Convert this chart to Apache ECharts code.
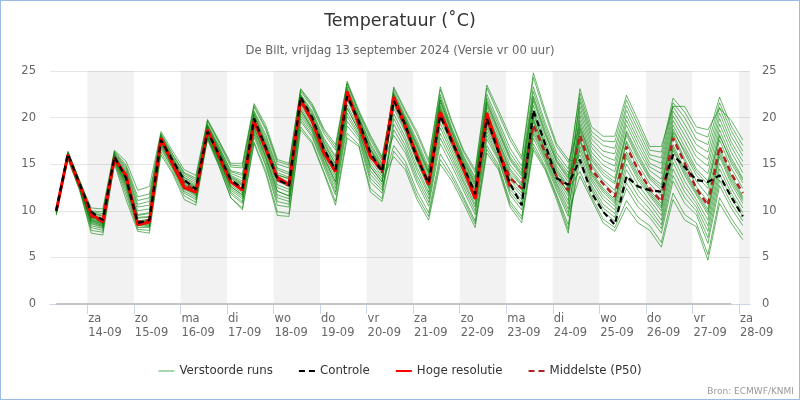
<!DOCTYPE html>
<html><head><meta charset="utf-8">
<script src="https://cdn.jsdelivr.net/npm/echarts@6/dist/echarts.min.js"></script>
<style>html,body{margin:0;padding:0;background:#fff}#wrap{position:relative;width:800px;height:400px}#c{width:800px;height:400px}#rand{position:absolute;left:0;top:0;width:800px;height:400px;box-sizing:border-box;border:1px solid #99bbe8;pointer-events:none}</style>
</head><body><div id="wrap"><div id="c"></div><div id="rand"></div></div><script>
// tijd in uren vanaf vr 13-09 00:00 (lokale tijd), 6-uurlijks
const uren = [8,14,20,26,32,38,44,50,56,62,68,74,80,86,92,98,104,110,116,122,128,134,140,146,152,158,164,170,176,182,188,194,200,206,212,218,224,230,236,242,248,254,260,266,272,278,284,290,296,302,308,314,320,326,332,338,344,350,356,362];
const dagTicks = [24,48,72,96,120,144,168,192,216,240,264,288,312,336,360];
const dagLabels = ['za\n14-09','zo\n15-09','ma\n16-09','di\n17-09','wo\n18-09','do\n19-09','vr\n20-09','za\n21-09','zo\n22-09','ma\n23-09','di\n24-09','wo\n25-09','do\n26-09','vr\n27-09','za\n28-09'];
const schaduw = [[24,48],[72,96],[120,144],[168,192],[216,240],[264,288],[312,336],[360,366]];
const yTicks = [0,5,10,15,20,25];

const controle = [10.0,16.1,12.9,9.9,9.0,15.8,13.5,8.7,9.0,17.6,15.4,13.3,12.3,18.5,16.0,13.3,12.4,19.9,16.8,13.4,12.7,22.2,20.0,16.6,14.4,22.3,19.6,16.2,14.2,21.8,19.2,15.6,13.0,20.2,17.4,14.8,11.8,19.9,16.3,12.9,10.6,20.8,17.2,13.5,12.8,15.5,11.9,9.9,8.5,13.7,12.6,12.2,12.05,16.0,14.7,13.3,13.1,13.8,11.5,9.4];
const hogeResolutie = [10.0,16.0,12.8,9.7,8.8,15.6,13.8,8.5,8.8,17.8,15.0,12.5,12.0,18.7,15.8,13.1,12.2,19.6,16.6,13.6,12.8,21.9,19.6,16.2,14.2,22.8,19.2,15.8,14.4,22.2,19.1,15.9,12.8,20.6,17.6,14.5,11.3,20.5,16.6,12.6];
const middelste = [10.0,16.0,12.8,9.4,8.8,15.8,13.6,8.8,9.0,17.7,15.2,12.9,12.2,18.6,16.0,13.2,12.4,19.6,16.7,13.3,12.7,21.8,19.6,16.4,14.2,22.4,19.4,15.9,14.1,21.8,18.9,15.7,12.9,20.4,17.4,14.5,11.9,19.8,16.4,13.5,12.4,19.2,16.3,13.7,12.2,18.1,14.4,12.9,11.5,16.9,14.4,12.4,11.0,17.8,15.1,12.4,10.6,16.9,14.0,11.9];
const nulLijn = [0,0,0,0,0,0,0,0,0,0,0,0,0,0,0,0,0,0,0,0,0,0,0,0,0,0,0,0,0,0,0,0,0,0,0,0,0,0,0,0,0,0,0,0,0,0,0,0,0,0,0,0,0,0,0,0,0,0,0];

const run01 = [10.1,16.1,13.0,9.6,9.2,16.0,14.1,10.0,10.2,17.9,15.6,13.5,12.7,19.2,16.8,14.2,13.8,20.6,17.9,14.4,13.9,22.4,20.5,17.6,15.7,23.1,20.1,17.0,14.9,22.8,20.2,17.6,14.7,22.5,18.9,15.9,13.6,22.5,19.6,16.7,14.8,23.3,19.5,16.2,14.5,22.6,18.5,17.5,17.4,21.9,19.2,16.5,16.3,22.1,20.6,18.4,17.9,22.2,19.1,17.0];
const run02 = [9.9,15.9,12.6,8.7,8.3,15.6,12.8,8.6,8.6,17.1,14.8,12.5,11.7,18.1,15.3,12.2,11.3,18.4,15.3,11.4,11.0,20.2,18.4,15.2,12.4,20.1,18.1,13.9,12.5,17.0,15.3,12.1,9.8,16.1,14.0,11.5,8.9,17.0,14.9,11.0,9.4,17.2,14.8,11.7,8.5,15.5,12.5,10.3,9.3,13.0,11.0,9.7,8.1,13.8,11.4,10.0,7.1,13.3,10.8,8.9];
const run03 = [10.0,16.0,12.8,9.2,8.7,15.8,13.5,8.9,9.0,17.6,15.2,13.0,12.2,18.8,16.3,13.6,12.9,20.0,17.1,13.7,13.1,22.0,19.9,16.9,14.8,22.6,19.6,16.3,14.4,20.4,17.9,14.7,12.0,19.4,16.5,13.7,11.1,19.2,16.3,13.0,11.6,19.1,16.1,13.3,11.1,20.2,16.3,14.9,14.2,19.2,16.6,14.3,13.4,19.7,17.5,15.1,14.0,19.3,16.3,14.1];
const run04 = [9.7,15.7,12.4,8.2,7.9,15.3,12.1,8.2,8.2,16.6,14.5,11.9,11.2,17.6,14.7,11.4,10.3,17.4,14.3,9.9,9.7,19.0,17.4,14.2,11.0,18.3,17.1,12.4,11.3,19.3,17.0,13.8,11.3,18.3,15.7,13.0,10.4,18.5,15.8,12.3,10.9,18.5,15.7,12.8,10.2,17.4,13.8,12.0,10.8,15.7,13.3,11.6,10.0,16.5,13.8,11.7,9.6,15.8,12.9,10.8];
const run05 = [10.2,16.2,13.2,9.9,9.7,16.3,14.7,11.1,11.4,18.2,16.0,14.0,13.3,19.0,16.5,13.8,13.2,20.2,17.4,13.9,13.4,22.1,20.1,17.1,15.1,22.8,19.8,16.5,14.5,23.1,20.6,18.2,15.2,23.0,19.4,16.3,14.1,23.2,20.4,17.6,15.5,24.3,20.4,16.9,15.2,19.3,15.4,13.8,12.9,18.1,15.5,13.4,12.2,18.8,16.2,13.8,12.4,18.2,15.1,13.0];
const run06 = [9.5,15.5,12.2,7.6,7.4,15.0,11.2,7.8,7.6,16.0,14.0,11.2,10.6,17.9,15.4,12.6,11.7,18.9,15.8,12.1,11.6,20.8,18.8,15.7,13.1,21.0,18.6,14.7,13.1,21.8,19.0,15.9,13.1,20.8,17.5,14.6,12.1,20.4,17.2,14.0,12.7,20.3,16.9,14.1,12.4,14.2,11.5,9.1,8.2,11.1,9.3,8.4,6.6,11.9,9.6,8.7,5.3,11.4,9.2,7.4];
const run07 = [10.0,16.0,12.9,9.3,8.9,15.9,13.7,9.3,9.4,17.7,15.3,13.2,12.4,19.6,17.2,14.7,14.6,21.1,18.7,15.0,14.6,22.8,21.1,18.3,16.5,23.6,20.5,17.6,15.4,22.1,19.4,16.5,13.6,21.3,18.0,15.0,12.6,21.1,18.0,14.9,13.4,21.3,17.8,14.8,13.1,16.5,13.2,11.2,10.1,14.4,12.2,10.7,9.0,15.2,12.6,10.8,8.4,14.5,11.9,9.8];
const run08 = [9.9,15.9,12.7,8.9,8.4,15.6,13.0,8.7,8.7,17.3,15.0,12.6,11.9,18.6,16.0,13.2,12.4,19.6,16.6,13.2,12.6,21.7,19.5,16.4,14.2,22.3,19.3,15.8,14.0,22.5,19.8,17.1,14.2,21.9,18.5,15.5,13.1,21.8,18.8,15.8,14.1,22.3,18.7,15.5,13.8,23.1,19.0,18.0,18.0,22.4,19.7,16.9,16.9,21.2,21.2,19.0,18.7,21.0,19.7,17.6];
const run09 = [10.4,16.4,13.3,10.3,10.2,16.5,15.3,12.2,12.6,18.5,16.4,14.4,13.8,19.8,17.5,15.1,15.1,21.5,19.2,15.5,15.1,23.1,21.5,18.8,17.1,23.9,20.8,18.1,15.8,22.4,19.6,16.3,13.2,20.5,17.3,14.4,11.8,20.0,16.8,13.6,12.3,19.8,16.5,13.8,12.0,18.5,14.8,13.0,11.8,17.3,14.3,12.2,10.8,18.0,15.3,12.6,11.0,16.8,13.8,11.5];
const run10 = [10.1,16.1,12.9,9.4,9.0,16.0,13.9,9.6,9.8,17.8,15.5,13.3,12.6,18.4,15.7,12.8,11.9,19.1,16.1,12.5,12.0,21.1,19.0,15.9,13.5,21.4,18.8,15.0,13.4,15.8,14.4,11.2,9.0,15.0,13.2,10.8,8.2,16.2,14.4,10.4,8.7,16.5,14.4,11.2,7.6,16.9,13.5,11.6,10.5,15.0,12.8,11.1,9.5,15.8,13.2,11.2,9.0,15.1,12.4,10.3];
const run11 = [9.8,15.8,12.6,8.6,8.2,15.5,12.6,8.5,8.4,17.0,14.7,12.3,11.6,19.1,16.6,14.0,13.5,20.4,17.6,14.1,13.6,22.3,20.3,17.4,15.4,22.9,19.9,16.7,14.7,21.9,19.2,16.2,13.3,21.1,17.8,14.8,12.3,20.7,17.6,14.5,13.0,20.8,17.4,14.5,12.7,21.2,17.2,15.9,15.4,20.2,17.6,15.1,14.5,20.7,18.7,16.4,15.5,20.5,17.4,15.3];
const run12 = [10.2,16.2,13.0,9.7,9.4,16.1,14.3,10.4,10.6,18.0,15.7,13.6,12.9,17.9,15.1,12.0,11.0,18.2,15.0,11.0,10.7,19.9,18.1,15.0,12.0,19.6,17.9,13.5,12.2,18.7,16.6,13.4,10.9,17.8,15.3,12.6,10.0,18.1,15.6,12.0,10.5,18.2,15.5,12.5,9.8,13.7,11.2,8.7,7.8,10.4,8.7,7.9,6.1,11.2,9.0,8.3,4.7,10.8,8.7,6.9];
const run13 = [10.0,16.0,12.7,9.0,8.6,15.7,13.3,8.8,8.9,17.4,15.1,12.8,12.0,18.7,16.2,13.4,12.7,19.8,16.9,13.4,12.8,21.8,19.7,16.6,14.5,22.5,19.5,16.0,14.2,22.6,20.0,17.3,14.4,22.2,18.7,15.7,13.4,22.1,19.2,16.2,14.4,22.8,19.1,15.8,14.1,16.0,12.8,10.7,9.7,13.7,11.6,10.2,8.5,14.5,12.0,10.4,7.8,13.9,11.4,9.4];
const run14 = [10.2,16.2,13.1,9.8,9.5,16.2,14.5,10.7,11.0,18.1,15.8,13.8,13.1,19.3,16.9,14.3,14.0,20.7,18.2,14.6,14.1,22.5,20.7,17.8,15.9,23.3,20.2,17.2,15.1,18.1,16.2,13.0,10.5,17.2,14.8,12.2,9.6,17.7,15.4,11.7,10.1,17.8,15.2,12.2,9.4,19.7,15.9,14.4,13.5,18.6,16.1,13.8,12.8,19.2,16.9,14.5,13.2,18.7,15.7,13.5];
const run15 = [9.6,15.6,12.3,7.9,7.7,15.2,11.7,8.0,7.9,16.3,14.2,11.6,10.9,18.2,15.4,12.4,11.5,18.6,15.6,11.7,11.3,20.5,18.6,15.4,12.8,20.5,18.3,14.3,12.8,22.3,19.6,16.8,13.9,21.6,18.2,15.2,12.8,21.4,18.4,15.4,13.7,21.8,18.2,15.2,13.4,21.7,17.7,16.4,16.1,20.8,18.1,15.6,15.1,21.2,19.3,17.1,16.3,21.1,18.0,15.9];
const run16 = [10.0,15.9,12.8,9.1,8.6,15.8,13.4,8.9,9.1,17.5,15.1,12.9,12.0,17.9,14.8,11.4,10.1,17.2,14.0,9.5,9.4,18.7,17.2,14.0,10.6,17.8,16.9,12.0,11.0,16.4,14.8,11.6,9.4,15.5,13.6,11.2,8.6,16.6,14.6,10.7,9.1,16.8,14.6,11.5,8.0,18.8,15.0,13.3,12.2,17.5,15.0,12.9,11.6,18.3,15.6,13.2,11.6,17.6,14.6,12.4];
const run17 = [10.1,16.1,12.9,9.5,9.1,15.9,13.8,9.5,9.7,17.8,15.4,13.3,12.5,19.1,16.5,13.7,13.0,20.3,17.2,13.8,13.5,22.2,20.0,17.3,15.0,22.7,19.9,16.6,14.6,23.3,20.8,18.5,15.5,23.3,19.6,16.5,14.4,23.5,20.8,18.0,15.8,24.8,20.8,17.2,15.5,15.1,12.2,9.9,8.9,12.4,10.4,9.3,7.6,13.2,10.8,9.6,6.5,12.7,10.3,8.4];
const run18 = [9.8,15.8,12.5,8.4,8.1,15.4,12.4,8.4,8.3,16.8,14.6,12.1,11.4,18.5,15.9,13.0,12.2,19.4,16.3,12.8,12.3,21.4,19.3,16.2,13.8,21.9,19.1,15.4,13.7,21.0,18.4,15.2,12.4,19.9,16.9,14.0,11.4,19.6,16.6,13.3,11.9,19.5,16.3,13.5,11.6,22.1,18.1,17.0,16.7,21.3,18.7,16.0,15.7,21.6,20.0,17.7,17.1,21.6,18.6,16.4];
const run19 = [10.3,16.3,13.2,10.0,9.9,16.4,14.9,11.5,11.8,18.3,16.1,14.1,13.5,19.7,17.4,14.9,14.8,21.3,18.9,15.3,14.9,23.0,21.3,18.6,16.8,23.7,20.6,17.9,15.6,22.2,19.8,16.9,14.1,21.9,18.4,15.3,13.0,21.6,18.6,15.6,13.9,22.1,18.4,15.3,13.6,17.8,14.2,12.4,11.2,16.3,13.9,12.0,10.5,17.1,14.4,12.1,10.2,16.4,13.5,11.3];
const run20 = [9.9,15.8,12.6,8.8,8.4,15.5,12.9,8.6,8.5,17.2,14.9,12.4,11.8,17.8,15.0,11.8,10.8,17.9,14.8,10.6,10.4,19.6,17.9,14.7,11.7,19.1,17.6,13.1,11.9,19.9,17.5,14.3,11.7,18.9,16.1,13.3,10.7,18.9,16.1,12.6,11.2,18.8,15.9,13.0,10.7,20.7,16.8,15.4,14.8,19.7,17.1,14.7,14.0,20.2,18.1,15.8,14.8,19.9,16.9,14.7];
const run21 = [10.1,16.0,12.9,9.3,8.8,15.9,13.6,9.2,9.3,17.7,15.3,13.1,12.4,18.8,16.2,13.5,12.8,19.9,17.0,13.5,13.0,21.9,19.8,16.8,14.6,22.5,19.5,16.1,14.3,21.9,19.1,16.0,13.2,20.9,17.6,14.7,12.2,20.5,17.4,14.3,12.8,20.5,17.1,14.3,12.5,17.6,14.0,12.2,11.0,16.0,13.6,11.8,10.3,16.8,14.1,11.9,9.9,16.1,13.2,11.1];
const run22 = [9.9,15.9,12.7,9.0,8.5,15.7,13.2,8.8,8.9,17.4,15.0,12.8,12.0,18.3,15.5,12.6,11.7,18.9,15.8,12.1,11.6,20.8,18.8,15.7,13.1,21.0,18.6,14.7,13.1,21.4,18.6,15.4,12.6,20.3,17.1,14.2,11.6,19.8,16.8,13.8,12.2,19.9,16.6,13.8,11.9,19.0,15.6,14.1,13.1,18.4,15.8,13.6,12.5,18.5,16.5,14.2,12.8,18.0,15.4,13.3];
const verstoordeRuns = [run01,run02,run03,run04,run05,run06,run07,run08,run09,run10,run11,run12,run13,run14,run15,run16,run17,run18,run19,run20,run21,run22];

const FONT = 'DejaVu Sans';
const pairs = arr => arr.map((v, i) => [uren[i], v]);
const chart = echarts.init(document.getElementById('c'), null, {renderer: 'canvas', width: 800, height: 400});

const series = [];
series.push({
  name: 'nul', type: 'line', data: pairs(nulLijn), symbol: 'none', silent: true, z: 1,
  lineStyle: {color: '#c4c4c4', width: 2},
  markArea: {silent: true, itemStyle: {color: 'rgba(0,0,0,0.052)'}, data: schaduw.map(([a, b]) => [{xAxis: a}, {xAxis: b}])}
});
verstoordeRuns.forEach(r => series.push({
  name: 'Verstoorde runs', type: 'line', data: pairs(r), symbol: 'none', silent: true, z: 2,
  lineStyle: {color: '#008000', width: 1, opacity: 0.58}, itemStyle: {color: '#008000'}
}));
series.push({name: 'Middelste (P50)', type: 'line', data: pairs(middelste), symbol: 'none', z: 3,
  lineStyle: {color: '#b22222', width: 2.5, type: [6, 4]}, itemStyle: {color: '#b22222'}});
series.push({name: 'Hoge resolutie', type: 'line', data: pairs(hogeResolutie), symbol: 'none', z: 4,
  lineStyle: {color: '#ff0000', width: 3}, itemStyle: {color: '#ff0000'}});
series.push({name: 'Controle', type: 'line', data: pairs(controle), symbol: 'none', z: 5,
  lineStyle: {color: '#000000', width: 2.2, type: [6, 4]}, itemStyle: {color: '#000000'}});

const yAs = (pos, margin, grid) => ({
  type: 'value', position: pos, min: yTicks[0], max: yTicks[yTicks.length - 1], interval: 5,
  axisLine: {show: false}, axisTick: {show: false},
  axisLabel: {color: '#666', fontSize: 11.5, fontFamily: FONT, margin: margin},
  splitLine: {show: grid, lineStyle: {color: '#e6e6e6', width: 1}}
});

const solidIcon = 'path://M0,0H16V2H0Z';
const dashIcon = 'path://M0,0H6V2H0Z M10,0H16V2H10Z';

chart.setOption({
  animation: false,
  textStyle: {fontFamily: FONT},
  title: [
    {text: 'Temperatuur (˚C)', left: 'center', top: 7, textStyle: {fontSize: 17.5, color: '#333', fontWeight: 'normal', fontFamily: FONT}},
    {text: 'De Bilt, vrijdag 13 september 2024 (Versie vr 00 uur)', left: 'center', top: 40, textStyle: {fontSize: 11.6, color: '#666', fontWeight: 'normal', fontFamily: FONT}}
  ],
  legend: {
    top: 360, left: 'center', itemWidth: 16, itemHeight: 2.5, itemGap: 26,
    textStyle: {fontSize: 11.8, color: '#333', fontFamily: FONT},
    data: [
      {name: 'Verstoorde runs', icon: solidIcon, itemStyle: {color: '#a8d8a8'}},
      {name: 'Controle', icon: dashIcon, itemStyle: {color: '#000000'}},
      {name: 'Hoge resolutie', icon: solidIcon, itemStyle: {color: '#ff0000'}},
      {name: 'Middelste (P50)', icon: dashIcon, itemStyle: {color: '#b22222'}}
    ]
  },
  grid: {left: 50, right: 50, top: 71, bottom: 96},
  xAxis: {
    type: 'value', min: 4.77, max: 365.7,
    axisLine: {show: true, lineStyle: {color: '#ccd6eb'}},
    axisTick: {show: true, customValues: dagTicks, length: 10, lineStyle: {color: '#ccd6eb'}},
    axisLabel: {customValues: dagTicks, formatter: v => dagLabels[dagTicks.indexOf(v)], align: 'left', color: '#666', fontSize: 11.5, lineHeight: 14, margin: 8, fontFamily: FONT, padding: [0, 0, 0, 1]},
    splitLine: {show: false}
  },
  yAxis: [yAs('left', 14, true), yAs('right', 12, false)],
  graphic: [{type: 'text', right: 6, top: 387, style: {text: 'Bron: ECMWF/KNMI', fill: '#999', font: '9px DejaVu Sans'}}],
  series: series
});
</script></body></html>
